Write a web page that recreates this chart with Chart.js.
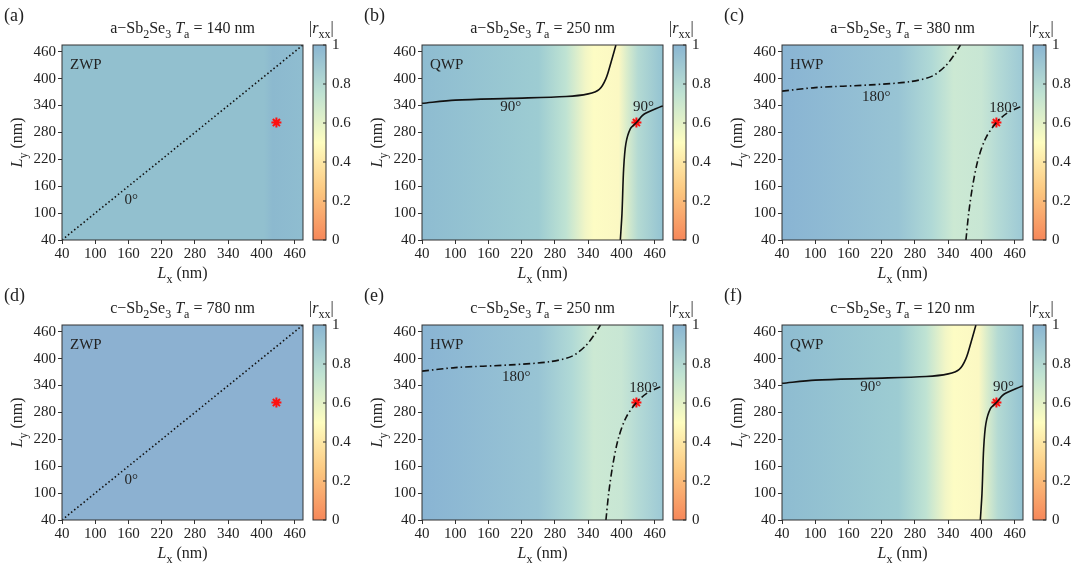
<!DOCTYPE html>
<html><head><meta charset="utf-8">
<script src="https://cdn.jsdelivr.net/npm/chart.js@4/dist/chart.umd.min.js"></script>
<style>
body{margin:0;background:#fff;width:1080px;height:576px;position:relative;overflow:hidden}
.p{position:absolute;width:360px;height:288px}
</style></head><body>
<div class="p" style="left:0;top:0"><canvas id="ca"></canvas></div>
<div class="p" style="left:360px;top:0"><canvas id="cb"></canvas></div>
<div class="p" style="left:720px;top:0"><canvas id="cc"></canvas></div>
<div class="p" style="left:0;top:288px"><canvas id="cd"></canvas></div>
<div class="p" style="left:360px;top:288px"><canvas id="ce"></canvas></div>
<div class="p" style="left:720px;top:288px"><canvas id="cf"></canvas></div>
<script>
const ticks = [40, 100, 160, 220, 280, 340, 400, 460];
const barTicks = [0, 0.2, 0.4, 0.6, 0.8, 1];
const barColors = ["#f6875a", "#fcc77f", "#fefdc0", "#bfe2d2", "#8ab6d2"];
const star = [{ x: 427, y: 302 }];

// background colour of |rxx| versus Lx (stop positions in nm)
const bgZ1 = [[40, "#92c0cf"], [405, "#92c0cf"], [420, "#8cb9cf"], [475, "#8fbdd0"]];
const bgZ2 = [[40, "#8cb1d1"], [475, "#8cb1d1"]];
const bgQ = [[40, "#8ebcd1"], [250, "#9dccd2"], [300, "#bfe3d3"], [335, "#f2f6c6"], [350, "#fdfcc4"], [395, "#fbf8c3"], [410, "#d9eccb"], [430, "#b4dad3"], [475, "#94c3d2"]];
const bgH = [[40, "#89b4d3"], [250, "#98c4d4"], [310, "#b0d9d6"], [350, "#cce9d3"], [400, "#c8e6d4"], [430, "#b4dad6"], [475, "#9dc9d5"]];

const diag = [{ x: 40, y: 40 }, { x: 475, y: 475 }];
const qwp1 = [{x:40,y:345},{x:100,y:352},{x:200,y:356},{x:300,y:360},{x:340,y:366},{x:360,y:376},{x:372,y:400},{x:382,y:440},{x:390,y:475}];
const qwp2 = [{x:398,y:40},{x:401,y:100},{x:404,y:200},{x:408,y:255},{x:416,y:288},{x:427,y:302},{x:440,y:320},{x:470,y:337},{x:475,y:339}];
const hwp1 = [{x:40,y:372},{x:100,y:380},{x:200,y:386},{x:270,y:393},{x:310,y:405},{x:335,y:428},{x:352,y:455},{x:362,y:475}];
const hwp2 = [{x:372,y:40},{x:377,y:100},{x:384,y:160},{x:394,y:220},{x:408,y:268},{x:427,y:302},{x:445,y:322},{x:470,y:337},{x:475,y:339}];

const serif = "'Liberation Serif', 'DejaVu Serif', serif";

function richText(ctx, parts, x, y, align) {
  let w = 0;
  parts.forEach(p => { ctx.font = (p.i ? "italic " : "") + (p.s ? 12 : 16) + "px " + serif; w += ctx.measureText(p.t).width; });
  let cx = align === "center" ? x - w / 2 : x;
  parts.forEach(p => {
    ctx.font = (p.i ? "italic " : "") + (p.s ? 12 : 16) + "px " + serif;
    ctx.fillText(p.t, cx, y + (p.s ? 5 : 0));
    cx += ctx.measureText(p.t).width;
  });
}

const panelPlugin = {
  id: "panel",
  beforeDatasetsDraw(chart, args, o) {
    const { ctx, chartArea: a, scales: { x } } = chart;
    const g = ctx.createLinearGradient(a.left, 0, a.right, 0);
    o.bg.forEach(([v, c]) => g.addColorStop(Math.min(1, Math.max(0, (x.getPixelForValue(v) - a.left) / (a.right - a.left))), c));
    ctx.fillStyle = g;
    ctx.fillRect(a.left, a.top, a.right - a.left, a.bottom - a.top);
  },
  afterDraw(chart, args, o) {
    const { ctx, chartArea: a, scales: { x, y } } = chart;
    ctx.save();
    ctx.strokeStyle = "#333"; ctx.lineWidth = 1;
    ctx.strokeRect(a.left, a.top, a.right - a.left, a.bottom - a.top);
    ctx.fillStyle = "#222"; ctx.textBaseline = "alphabetic";
    // colorbar
    const bx = a.right + 10, bw = 13;
    const g = ctx.createLinearGradient(0, a.bottom, 0, a.top);
    barColors.forEach((c, i) => g.addColorStop(i / (barColors.length - 1), c));
    ctx.fillStyle = g; ctx.fillRect(bx, a.top, bw, a.bottom - a.top);
    ctx.strokeRect(bx, a.top, bw, a.bottom - a.top);
    ctx.fillStyle = "#222"; ctx.font = "15px " + serif; ctx.textAlign = "left"; ctx.textBaseline = "middle";
    barTicks.forEach(t => {
      const py = a.bottom - t * (a.bottom - a.top);
      ctx.fillText(String(t), bx + bw + 6, py);
      ctx.beginPath(); ctx.moveTo(bx + bw, py); ctx.lineTo(bx + bw - 3, py); ctx.stroke();
    });
    ctx.textBaseline = "alphabetic";
    richText(ctx, [{ t: "|" }, { t: "r", i: 1 }, { t: "xx", s: 1 }, { t: "|" }], bx - 4, a.top - 12, "left");
    // title, letter, labels
    ctx.textAlign = "left";
    ctx.font = "18px " + serif; ctx.fillText(o.letter, 4, a.top - 24);
    richText(ctx, [{ t: o.phase + "\u2212Sb" }, { t: "2", s: 1 }, { t: "Se" }, { t: "3", s: 1 }, { t: " " }, { t: "T", i: 1 }, { t: "a", s: 1 }, { t: " = " + o.t + " nm" }], (a.left + a.right) / 2, a.top - 12, "center");
    richText(ctx, [{ t: "L", i: 1 }, { t: "x", s: 1 }, { t: " (nm)" }], (a.left + a.right) / 2, a.bottom + 38, "center");
    ctx.save(); ctx.translate(22, (a.top + a.bottom) / 2); ctx.rotate(-Math.PI / 2);
    richText(ctx, [{ t: "L", i: 1 }, { t: "y", s: 1 }, { t: " (nm)" }], 0, 0, "center");
    ctx.restore();
    ctx.font = "15px " + serif;
    ctx.fillText(o.kind, a.left + 8, a.top + 24);
    o.labels.forEach(([lx, ly, s]) => {
      ctx.textAlign = "center";
      ctx.fillText(s, x.getPixelForValue(lx), y.getPixelForValue(ly));
    });
    ctx.restore();
  }
};

function panel(id, top, bottomH, letter, phase, t, kind, bg, lines, dash, labels) {
  const datasets = lines.map(l => ({ data: l, showLine: true, borderColor: "#111", borderWidth: 1.6, borderDash: dash, pointRadius: 0, tension: 0.3 }));
  datasets.push({ data: star, pointStyle: "star", pointRadius: 5, borderColor: "#ff1010", backgroundColor: "#ff1010", borderWidth: 2 });
  new Chart(document.getElementById(id), {
    type: "scatter",
    data: { datasets },
    options: {
      responsive: false, animation: false, devicePixelRatio: 1,
      layout: { padding: { top: top, right: 57, left: 0, bottom: 0 } },
      plugins: { legend: { display: false }, tooltip: { enabled: false }, panel: { letter, phase, t, kind, bg, labels } },
      scales: {
        x: {
          type: "linear", min: 40, max: 475, afterBuildTicks: s => { s.ticks = ticks.map(v => ({ value: v })); },
          afterFit: s => { s.height = bottomH; },
          grid: { drawOnChartArea: false, tickLength: 4, color: "#333" }, border: { display: false },
          ticks: { color: "#222", font: { family: serif, size: 15 }, maxRotation: 0, padding: 1 }
        },
        y: {
          type: "linear", min: 40, max: 475, afterBuildTicks: s => { s.ticks = ticks.map(v => ({ value: v })); },
          afterFit: s => { s.width = 62; },
          grid: { drawOnChartArea: false, tickLength: 4, color: "#333" }, border: { display: false },
          ticks: { color: "#222", font: { family: serif, size: 15 }, padding: 2 }
        }
      }
    },
    plugins: [panelPlugin]
  });
}

["ca", "cb", "cc", "cd", "ce", "cf"].forEach(id => {
  const c = document.getElementById(id); c.width = 360; c.height = 288;
});

const dot = [1.5, 2.5], dashDot = [7, 3, 1.5, 3];
panel("ca", 45, 48, "(a)", "a", 140, "ZWP", bgZ1, [diag], dot, [[165, 120, "0\u00b0"]]);
panel("cb", 45, 48, "(b)", "a", 250, "QWP", bgQ, [qwp1, qwp2], [], [[200, 327, "90\u00b0"], [440, 327, "90\u00b0"]]);
panel("cc", 45, 48, "(c)", "a", 380, "HWP", bgH, [hwp1, hwp2], dashDot, [[210, 350, "180\u00b0"], [440, 325, "180\u00b0"]]);
panel("cd", 37, 56, "(d)", "c", 780, "ZWP", bgZ2, [diag], dot, [[165, 120, "0\u00b0"]]);
panel("ce", 37, 56, "(e)", "c", 250, "HWP", bgH, [hwp1, hwp2], dashDot, [[210, 350, "180\u00b0"], [440, 325, "180\u00b0"]]);
panel("cf", 37, 56, "(f)", "c", 120, "QWP", bgQ, [qwp1, qwp2], [], [[200, 327, "90\u00b0"], [440, 327, "90\u00b0"]]);
</script>
</body></html>
